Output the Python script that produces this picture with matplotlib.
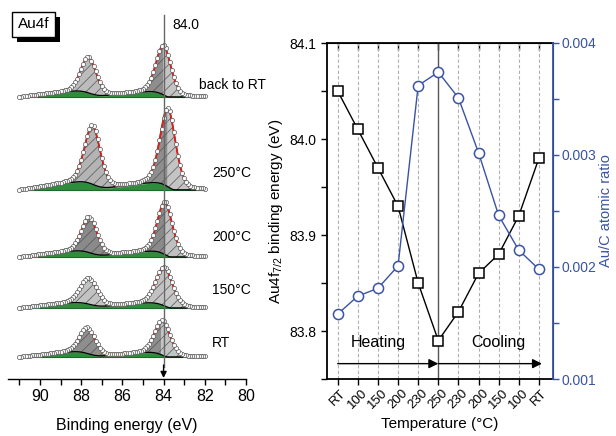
import numpy as np
import matplotlib
matplotlib.use("Agg")
import matplotlib.pyplot as plt
from matplotlib.patches import Rectangle

plt.rcParams['font.family'] = ['Liberation Sans', 'DejaVu Sans']
plt.rcParams['mathtext.default'] = 'regular'
plt.rcParams['hatch.linewidth'] = 0.5

# ---------------- data: right panel ----------------
temp_labels = ["RT", "100", "150", "200", "230", "250", "230", "200", "150", "100", "RT"]
binding_energy = [84.05, 84.01, 83.97, 83.93, 83.85, 83.79, 83.82, 83.86, 83.88, 83.92, 83.98]
au_c_ratio = [0.00158, 0.00174, 0.00181, 0.00201, 0.00362, 0.00374, 0.00351, 0.00302, 0.00246, 0.00215, 0.00198]

# ---------------- data: left panel (XPS fit parameters) ----------------
spec_names = ["back to RT", "250°C", "200°C", "150°C", "RT"]
spec_offsets = [282, 189, 122, 71, 22]
pos_72 = [84.00, 83.79, 83.93, 83.96, 84.05]
pos_52 = [87.64, 87.45, 87.60, 87.63, 87.70]
height_72 = [50, 79, 53, 39, 35]
height_52 = [36, 59, 36, 26, 26]
fwhm_72 = [0.85, 0.88, 0.85, 0.95, 0.88]
fwhm_52 = [0.88, 0.90, 0.88, 0.98, 0.90]
shirley_step = [22, 28, 22, 20, 20]
fill_52 = ['#bcbcbc', '#b4b4b4', '#8a8a8a', '#c2c2c2', '#8e8e8e']
fill_72_hi = ['#8e8e8e', '#8e8e8e', '#8a8a8a', '#c2c2c2', '#8e8e8e']
fill_72_lo = ['#c4c4c4', '#c4c4c4', '#c0c0c0', '#c8c8c8', '#c4c4c4']
label_y = [294, 206, 142, 89, 36]
label_x = [82.3, 81.64, 81.64, 81.64, 81.64]

be_start, be_stop, be_step = 82.0, 91.0, 0.1

BLUE = '#3a53a4'

fig = plt.figure(figsize=(6.16, 4.36), dpi=100)
W, H = 616, 436


def pv(x, c, h, w, eta=0.3):
    g = np.exp(-4 * np.log(2) * ((x - c) / w) ** 2)
    l = 1.0 / (1.0 + 4 * ((x - c) / w) ** 2)
    return h * (eta * l + (1 - eta) * g)


# ---------------- left panel ----------------
axL = fig.add_axes([8 / W, (H - 379) / H, 238 / W, 379 / H])
axL.set_xlim(91.55, 80)
axL.set_ylim(0, 379)
for s in ['left', 'right', 'top']:
    axL.spines[s].set_visible(False)
axL.spines['bottom'].set_linewidth(1.0)
axL.set_yticks([])
axL.set_xticks(np.arange(80, 91, 2))
axL.set_xticks(np.arange(81, 92, 2), minor=True)
axL.tick_params(axis='x', which='both', direction='out', length=4, width=1, labelsize=11.5, pad=3)
axL.set_xlabel("Binding energy (eV)", fontsize=11.5, labelpad=10)

x = np.arange(be_start, be_stop + 1e-9, be_step)
for i in range(len(spec_names)):
    off = spec_offsets[i]
    p72 = pv(x, pos_72[i], height_72[i], fwhm_72[i])
    p52 = pv(x, pos_52[i], height_52[i], fwhm_52[i])
    tot = p72 + p52
    cum = np.cumsum(tot)
    frac = cum / cum[-1]
    lin = (x - x[0]) / (x[-1] - x[0])
    bg = shirley_step[i] * (frac - lin)
    bg = np.clip(bg, 0, None)
    base = off + bg
    axL.fill_between(x, off, base, color='#2f8c3d', lw=0, zorder=2)
    axL.plot(x, base, color='#1d6a29', lw=0.7, zorder=2)
    axL.plot(x, np.full_like(x, off), color='#1d6a29', lw=0.8, zorder=2)
    axL.fill_between(x, base, base + p52, facecolor=fill_52[i], edgecolor='#555555',
                     hatch='///', lw=0, zorder=3)
    hi = x >= pos_72[i] - 0.05
    lo = x <= pos_72[i] + 0.05
    axL.fill_between(x[hi], base[hi], (base + p72)[hi], facecolor=fill_72_hi[i],
                     edgecolor='#555555', hatch='///', lw=0, zorder=3)
    axL.fill_between(x[lo], base[lo], (base + p72)[lo], facecolor=fill_72_lo[i],
                     edgecolor='#555555', hatch='///', lw=0, zorder=3)
    axL.plot(x, base + p52, color='black', lw=0.9, zorder=4)
    axL.plot(x, base + p72, color='black', lw=0.9, zorder=4)
    env = base + tot
    axL.plot(x, env, color='#e0201b', lw=1.3, zorder=5)
    axL.plot(x, env, 'o', ms=3.0, mfc='white', mec='#555555', mew=0.5, zorder=6)
    axL.text(label_x[i], label_y[i], spec_names[i], fontsize=10, ha='left', va='center')

# vertical marker line at 84.0
axL.plot([84.0, 84.0], [12, 364], color='#666666', lw=1.0, zorder=7)
axL.annotate('', xy=(84.0, 1), xytext=(84.0, 14),
             arrowprops=dict(arrowstyle='-|>', color='black', lw=1.0,
                             mutation_scale=9, shrinkA=0, shrinkB=0), zorder=8)
axL.text(83.56, 354, "84.0", fontsize=10, ha='left', va='center')

# Au4f label box with shadow
fig.add_artist(Rectangle((17 / W, 1 - 42 / H), 43 / W, 25 / H, transform=fig.transFigure,
                         facecolor='black', edgecolor='black', lw=0))
fig.add_artist(Rectangle((12 / W, 1 - 37 / H), 43 / W, 25 / H, transform=fig.transFigure,
                         facecolor='white', edgecolor='black', lw=1))
fig.text(33.5 / W, 1 - 24.5 / H, "Au4f", fontsize=11, ha='center', va='center')

# ---------------- right panel ----------------
axR = fig.add_axes([327 / W, (H - 379) / H, 226 / W, 336 / H])
xi = np.arange(len(temp_labels))
axR.set_xlim(-0.53, 10.7)
axR.set_ylim(83.75, 84.1)
for k in xi:
    if k == 5:
        axR.axvline(k, color='#555555', lw=1.0, zorder=1)
    else:
        axR.axvline(k, color='#b0b0b0', lw=0.8, ls=(0, (3, 2)), zorder=1)

axR.plot(xi, binding_energy, '-', color='black', lw=1.0, zorder=3)
axR.plot(xi, binding_energy, 's', ms=6.5, mfc='white', mec='black', mew=1.1, zorder=4)

axR.set_xticks(xi)
axR.set_xticklabels(temp_labels, rotation=45, ha='center', fontsize=9.5)
axR.set_yticks([83.8, 83.9, 84.0, 84.1])
axR.set_yticks([83.75, 83.85, 83.95, 84.05], minor=True)
axR.set_yticklabels(["83.8", "83.9", "84.0", "84.1"], fontsize=10)
axR.tick_params(axis='y', which='both', direction='out', length=4, width=1)
axR.tick_params(axis='x', which='both', direction='out', length=4, width=1, pad=2)
for s in ['left', 'bottom', 'top']:
    axR.spines[s].set_linewidth(1.3)
axR.set_xlabel("Temperature (°C)", fontsize=11)
axR.set_ylabel("Au4f$_{7/2}$ binding energy (eV)", fontsize=11, labelpad=3)

# top ticks inward
secx = axR.secondary_xaxis('top')
secx.set_xticks(xi)
secx.tick_params(direction='in', length=5, width=1, labeltop=False)

# arrows & labels
axR.annotate('', xy=(5, 83.766), xytext=(0, 83.766),
             arrowprops=dict(arrowstyle='-|>', color='black', lw=1.0, mutation_scale=14,
                             shrinkA=0, shrinkB=0))
axR.annotate('', xy=(10.15, 83.766), xytext=(5, 83.766),
             arrowprops=dict(arrowstyle='-|>', color='black', lw=1.0, mutation_scale=14,
                             shrinkA=0, shrinkB=0))
axR.text(2.0, 83.788, "Heating", fontsize=11.5, ha='center', va='center')
axR.text(8.0, 83.788, "Cooling", fontsize=11.5, ha='center', va='center')

# twin axis
axT = axR.twinx()
axT.set_ylim(0.001, 0.004)
axT.plot(xi, au_c_ratio, '-', color=BLUE, lw=1.0, zorder=3)
axT.plot(xi, au_c_ratio, 'o', ms=7.3, mfc='white', mec=BLUE, mew=1.1, zorder=4)
axT.set_yticks([0.001, 0.002, 0.003, 0.004])
axT.set_yticks([0.0015, 0.0025, 0.0035], minor=True)
axT.set_yticklabels(["0.001", "0.002", "0.003", "0.004"], fontsize=10, color=BLUE)
axT.tick_params(axis='y', which='both', direction='out', length=4, width=1, colors=BLUE, pad=2)
axT.spines['right'].set_color(BLUE)
axT.spines['right'].set_linewidth(1.3)
axT.spines['left'].set_visible(False)
axT.spines['top'].set_visible(False)
axT.spines['bottom'].set_visible(False)
axT.set_ylabel("Au/C atomic ratio", fontsize=10.5, color=BLUE, labelpad=2)

fig.savefig("out.png", dpi=100)
